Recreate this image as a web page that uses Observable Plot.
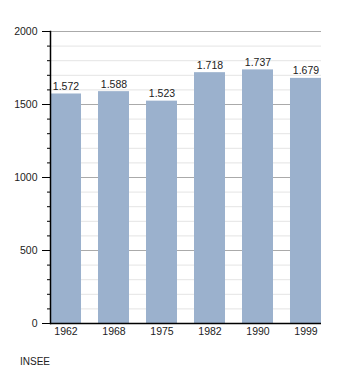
<!DOCTYPE html>
<html>
<head>
<meta charset="utf-8">
<script src="https://cdn.jsdelivr.net/npm/d3@7"></script>
<script src="https://cdn.jsdelivr.net/npm/@observablehq/plot@0.6"></script>
<style>
  body { margin: 0; background: #fff; font-family: "Liberation Sans", Arial, sans-serif; }
  #caption { font-size: 10px; color: #222; padding-left: 20px; margin-top: 10px; line-height: 14px; }
</style>
</head>
<body>
<div id="chart"></div>
<div id="caption">INSEE</div>
<script>
const years = ["1962", "1968", "1975", "1982", "1990", "1999"];
const population = [1572, 1588, 1523, 1718, 1737, 1679];
const majorTicks = [0, 500, 1000, 1500, 2000];
const minorTicks = d3.range(0, 2001, 100);
const caption = "INSEE";

const data = years.map((y, i) => ({year: y, pop: population[i]}));
const fmt = d3.formatLocale({thousands: ".", decimal: ",", grouping: [3], currency: ["", ""]}).format(",");

const chart = Plot.plot({
  width: 350,
  height: 345,
  marginLeft: 50,
  marginRight: 29,
  marginTop: 31,
  marginBottom: 22,
  style: {fontFamily: "Liberation Sans, Arial, sans-serif", fontSize: "10.5px", color: "#222", background: "#fff"},
  x: {domain: years, paddingInner: 0.354, paddingOuter: 0, round: false, label: null},
  y: {domain: [0, 2000], label: null},
  marks: [
    Plot.ruleY(minorTicks.filter(d => !majorTicks.includes(d)), {stroke: "#e4e4e4", strokeWidth: 1}),
    Plot.ruleY(majorTicks.filter(d => d > 0), {stroke: "#aaaaaa", strokeWidth: 1}),
    Plot.barY(data, {x: "year", y: "pop", fill: "#9bb1cd"}),
    Plot.text(data, {x: "year", y: "pop", text: d => fmt(d.pop), lineAnchor: "bottom", dy: -4, fill: "#222", fontSize: 10.5}),
    Plot.axisY({ticks: minorTicks, tickSize: 3, tickFormat: null, text: null, stroke: "#000"}),
    Plot.axisY({ticks: majorTicks, tickSize: 8, tickPadding: 5, tickFormat: d => String(d), stroke: "#000", fill: "#222", label: null}),
    Plot.axisX({tickSize: 0, tickPadding: 4, fill: "#222", label: null}),
    Plot.ruleY([0], {stroke: "#000", strokeWidth: 1.5}),
    Plot.frame({anchor: "left", stroke: "#000", strokeWidth: 1.5})
  ]
});
document.getElementById("chart").appendChild(chart);
document.getElementById("caption").textContent = caption;
</script>
</body>
</html>
